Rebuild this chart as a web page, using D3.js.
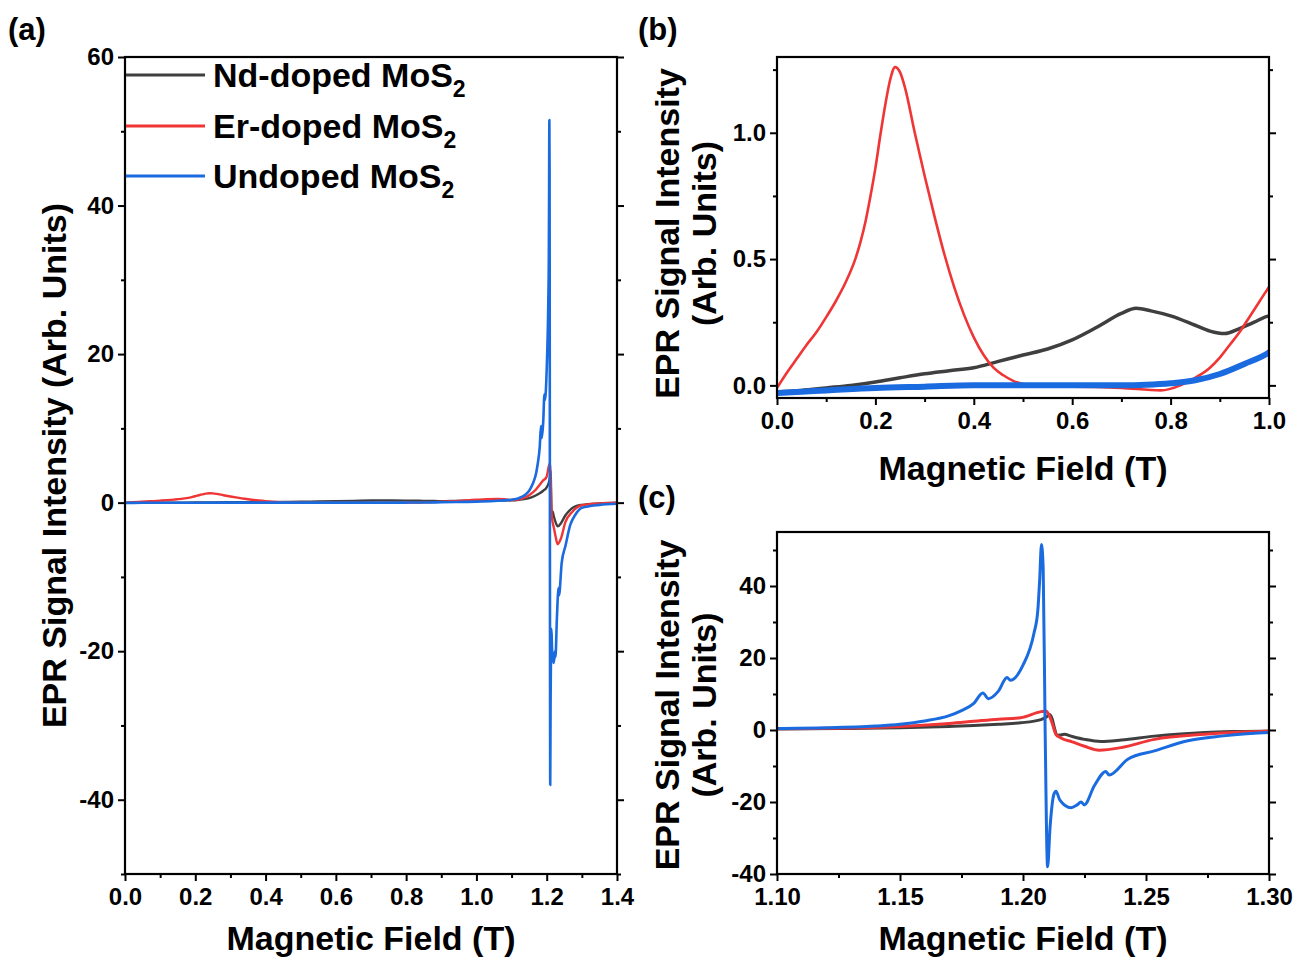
<!DOCTYPE html>
<html>
<head>
<meta charset="utf-8">
<script src="https://cdn.jsdelivr.net/npm/d3@7"></script>
<style>
  html, body { margin: 0; padding: 0; background: #fff; }
  svg { display: block; font-family: "Liberation Sans", Arial, sans-serif; font-weight: bold; }
</style>
</head>
<body>
<svg id="chart" width="1295" height="961"></svg>
<script>
// EPR spectra of MoS2 samples: [magnetic field (T), signal intensity (arb. units)]
const ndDoped = [
  [0.00,-0.026],[0.05,-0.02],[0.10,-0.01],[0.15,0.0],[0.20,0.013],[0.25,0.03],[0.30,0.046],
  [0.35,0.058],[0.40,0.07],[0.45,0.095],[0.50,0.12],[0.55,0.144],[0.60,0.18],[0.65,0.23],
  [0.70,0.285],[0.73,0.305],[0.76,0.295],[0.80,0.275],[0.85,0.238],[0.88,0.215],[0.91,0.205],
  [0.94,0.225],[0.97,0.25],[1.00,0.275],[1.05,0.28],[1.10,0.3],[1.13,0.45],[1.15,0.6],
  [1.17,1.0],[1.18,1.25],[1.19,1.6],[1.199,2.0],[1.2073,2.9],[1.2095,3.6],[1.2107,4.3],
  [1.2118,3.2],[1.2128,0.5],[1.2138,-1.5],[1.2152,-1.4],[1.2167,-1.2],[1.22,-1.8],[1.225,-2.6],
  [1.2317,-3.2],[1.24,-2.8],[1.2534,-1.7],[1.264,-1.1],[1.274,-0.7],[1.285,-0.45],[1.30,-0.3],
  [1.35,-0.1],[1.40,0.0]
];
const erDoped = [
  [0.00,-0.01],[0.02,0.05],[0.04,0.105],[0.06,0.16],[0.08,0.21],[0.10,0.27],[0.12,0.335],
  [0.14,0.41],[0.16,0.505],[0.17,0.57],[0.18,0.65],[0.19,0.75],[0.20,0.86],[0.21,0.99],
  [0.22,1.11],[0.23,1.21],[0.24,1.26],[0.25,1.24],[0.26,1.18],[0.28,1.0],[0.30,0.83],
  [0.32,0.67],[0.34,0.52],[0.36,0.39],[0.38,0.28],[0.40,0.19],[0.42,0.12],[0.44,0.07],
  [0.46,0.04],[0.48,0.018],[0.50,0.005],[0.55,-0.005],[0.60,-0.005],[0.70,-0.01],[0.78,-0.02],
  [0.82,0.0],[0.85,0.03],[0.88,0.07],[0.90,0.11],[0.92,0.16],[0.94,0.21],[0.96,0.27],
  [0.98,0.33],[1.00,0.39],[1.03,0.47],[1.06,0.5],[1.08,0.45],[1.10,0.35],[1.13,0.55],
  [1.15,1.0],[1.17,1.8],[1.18,2.4],[1.19,3.0],[1.199,3.4],[1.2073,5.1],[1.2093,5.3],
  [1.2105,4.3],[1.2118,2.0],[1.2134,-1.2],[1.2154,-2.2],[1.22,-3.3],[1.225,-4.5],[1.231,-5.6],
  [1.2398,-4.9],[1.2534,-2.6],[1.2737,-1.2],[1.285,-0.7],[1.30,-0.35],[1.35,-0.1],[1.40,0.0]
];
const undoped = [
  [0.00,-0.03],[0.05,-0.025],[0.10,-0.02],[0.20,-0.01],[0.30,-0.005],[0.40,0.0],[0.50,0.0],
  [0.60,0.0],[0.70,0.0],[0.75,0.002],[0.80,0.008],[0.85,0.02],[0.90,0.045],[0.95,0.085],
  [1.00,0.13],[1.05,0.22],[1.10,0.4],[1.12,0.6],[1.14,1.1],[1.15,1.6],[1.16,2.5],[1.17,4.0],
  [1.175,5.4],[1.18,7.4],[1.1837,10.3],[1.1859,8.7],[1.19,10.8],[1.1935,14.6],[1.1949,13.8],
  [1.20,18.0],[1.2045,27.0],[1.206,33.0],[1.2068,42.0],[1.2075,51.5],[1.2082,45.0],
  [1.209,0.0],[1.2100,-38.0],[1.2110,-27.0],[1.2125,-18.0],[1.2134,-17.0],[1.215,-19.5],
  [1.2195,-21.6],[1.222,-20.8],[1.2236,-20.0],[1.2249,-20.8],[1.229,-15.5],[1.2337,-11.5],
  [1.235,-12.5],[1.2426,-8.1],[1.2534,-5.8],[1.267,-3.0],[1.2805,-1.7],[1.30,-0.7],
  [1.35,-0.3],[1.40,-0.15]
];

const seriesNames  = ["Nd-doped MoS", "Er-doped MoS", "Undoped MoS"];
const seriesColors = ["#3f3f3f", "#ef3535", "#1a6be0"];
const seriesData   = [ndDoped, erDoped, undoped];

// Tick values for each panel
const aXTicks = [0, 0.2, 0.4, 0.6, 0.8, 1.0, 1.2, 1.4];
const aXMinor = [0.1, 0.3, 0.5, 0.7, 0.9, 1.1, 1.3];
const aYTicks = [-40, -20, 0, 20, 40, 60];
const aYMinor = [-50, -30, -10, 10, 30, 50];
const bXTicks = [0, 0.2, 0.4, 0.6, 0.8, 1.0];
const bXMinor = [0.1, 0.3, 0.5, 0.7, 0.9];
const bYTicks = [0, 0.5, 1.0];
const bYMinor = [0.25, 0.75, 1.25];
const cXTicks = [1.10, 1.15, 1.20, 1.25, 1.30];
const cXMinor = [1.125, 1.175, 1.225, 1.275];
const cYTicks = [-40, -20, 0, 20, 40];
const cYMinor = [-30, -10, 10, 30, 50];

const svg = d3.select("#chart");

// plain hyphen for negative tick labels
const locale = d3.formatLocale({ decimal: ".", thousands: ",", grouping: [3], currency: ["", ""], minus: "-" });
const fmt0 = locale.format("d");
const fmt1 = locale.format(".1f");
const fmt2 = locale.format(".2f");

const TICK_FONT = "24px";
const TITLE_FONT = "34px";

function drawPanel(cfg) {
  const x = d3.scaleLinear().domain(cfg.xDomain).range([cfg.left, cfg.right]);
  const y = d3.scaleLinear().domain(cfg.yDomain).range([cfg.bottom, cfg.top]);
  const g = svg.append("g");

  const clipId = "clip-" + cfg.id;
  svg.append("clipPath").attr("id", clipId)
    .append("rect")
    .attr("x", cfg.left).attr("y", cfg.top)
    .attr("width", cfg.right - cfg.left).attr("height", cfg.bottom - cfg.top);

  // spectra
  const line = d3.line()
    .x(d => x(d[0])).y(d => y(d[1]))
    .curve(d3.curveMonotoneX);
  const curves = g.append("g").attr("clip-path", `url(#${clipId})`);
  seriesData.forEach((data, i) => {
    curves.append("path")
      .datum(data)
      .attr("d", line)
      .attr("fill", "none")
      .attr("stroke", seriesColors[i])
      .attr("stroke-width", cfg.widths[i])
      .attr("stroke-linejoin", "round");
  });

  // axes: major and minor ticks, outward, mirrored on the right
  const styleAxis = (sel) => {
    sel.select(".domain").remove();
    sel.selectAll(".tick line").attr("stroke", "#000").attr("stroke-width", 2);
    sel.selectAll(".tick text")
      .attr("fill", "#000")
      .style("font-size", TICK_FONT)
      .style("font-weight", "bold")
      .style("font-family", "'Liberation Sans', Arial, sans-serif");
  };
  g.append("g").attr("transform", `translate(0,${cfg.bottom})`)
    .call(d3.axisBottom(x).tickValues(cfg.xTicks).tickFormat(cfg.xFmt).tickSize(7).tickPadding(7))
    .call(styleAxis);
  g.append("g").attr("transform", `translate(0,${cfg.bottom})`)
    .call(d3.axisBottom(x).tickValues(cfg.xMinor).tickFormat("").tickSize(4))
    .call(styleAxis);
  g.append("g").attr("transform", `translate(${cfg.left},0)`)
    .call(d3.axisLeft(y).tickValues(cfg.yTicks).tickFormat(cfg.yFmt).tickSize(7).tickPadding(4))
    .call(styleAxis);
  g.append("g").attr("transform", `translate(${cfg.left},0)`)
    .call(d3.axisLeft(y).tickValues(cfg.yMinor).tickFormat("").tickSize(4))
    .call(styleAxis);
  g.append("g").attr("transform", `translate(${cfg.right},0)`)
    .call(d3.axisRight(y).tickValues(cfg.yTicks).tickFormat("").tickSize(7))
    .call(styleAxis);
  g.append("g").attr("transform", `translate(${cfg.right},0)`)
    .call(d3.axisRight(y).tickValues(cfg.yMinor).tickFormat("").tickSize(4))
    .call(styleAxis);

  // frame
  g.append("rect")
    .attr("x", cfg.left).attr("y", cfg.top)
    .attr("width", cfg.right - cfg.left).attr("height", cfg.bottom - cfg.top)
    .attr("fill", "none").attr("stroke", "#000").attr("stroke-width", 2.2);

  // axis titles
  g.append("text")
    .attr("x", (cfg.left + cfg.right) / 2).attr("y", cfg.xTitleY)
    .attr("text-anchor", "middle")
    .style("font-size", TITLE_FONT)
    .text("Magnetic Field (T)");

  const yt = g.append("text")
    .attr("transform", `translate(${cfg.yTitleX},${(cfg.top + cfg.bottom) / 2 + cfg.yTitleShift}) rotate(-90)`)
    .attr("text-anchor", "middle")
    .style("font-size", TITLE_FONT);
  if (cfg.twoLineY) {
    yt.append("tspan").attr("x", 0).attr("dy", 0).text("EPR Signal Intensity");
    yt.append("tspan").attr("x", 0).attr("dy", 37).text("(Arb. Units)");
  } else {
    yt.text("EPR Signal Intensity (Arb. Units)");
  }

  // panel letter
  svg.append("text")
    .attr("x", cfg.labelX).attr("y", cfg.labelY)
    .style("font-size", "31px")
    .text(cfg.label);

  return { x, y };
}

drawPanel({
  id: "a", label: "(a)", labelX: 8, labelY: 40,
  left: 125, right: 617, top: 57, bottom: 874,
  xDomain: [0, 1.4], yDomain: [-50, 60],
  xTicks: aXTicks, xMinor: aXMinor, yTicks: aYTicks, yMinor: aYMinor,
  xFmt: fmt1, yFmt: fmt0,
  widths: [2.4, 2.4, 2.6],
  xTitleY: 950, yTitleX: 66, yTitleShift: 0, twoLineY: false
});

drawPanel({
  id: "b", label: "(b)", labelX: 638, labelY: 40,
  left: 777, right: 1269, top: 57, bottom: 398,
  xDomain: [0, 1.0], yDomain: [-0.05, 1.3],
  xTicks: bXTicks, xMinor: bXMinor, yTicks: bYTicks, yMinor: bYMinor,
  xFmt: fmt1, yFmt: fmt1,
  widths: [3.5, 2.6, 6],
  xTitleY: 480, yTitleX: 679, yTitleShift: 6, twoLineY: true
});

drawPanel({
  id: "c", label: "(c)", labelX: 638, labelY: 508,
  left: 777, right: 1269, top: 532, bottom: 874,
  xDomain: [1.10, 1.30], yDomain: [-40, 55],
  xTicks: cXTicks, xMinor: cXMinor, yTicks: cYTicks, yMinor: cYMinor,
  xFmt: fmt2, yFmt: fmt0,
  widths: [3, 3, 3],
  xTitleY: 950, yTitleX: 679, yTitleShift: 2, twoLineY: true
});

// legend for panel (a)
const legend = svg.append("g");
const legendY = [75, 126, 176];
seriesNames.forEach((name, i) => {
  legend.append("line")
    .attr("x1", 126).attr("x2", 205)
    .attr("y1", legendY[i]).attr("y2", legendY[i])
    .attr("stroke", seriesColors[i]).attr("stroke-width", 3);
  const t = legend.append("text")
    .attr("x", 213).attr("y", legendY[i] + 12)
    .style("font-size", "34px");
  t.append("tspan").text(name);
  t.append("tspan").attr("dy", 10).style("font-size", "23px").text("2");
});
</script>
</body>
</html>
